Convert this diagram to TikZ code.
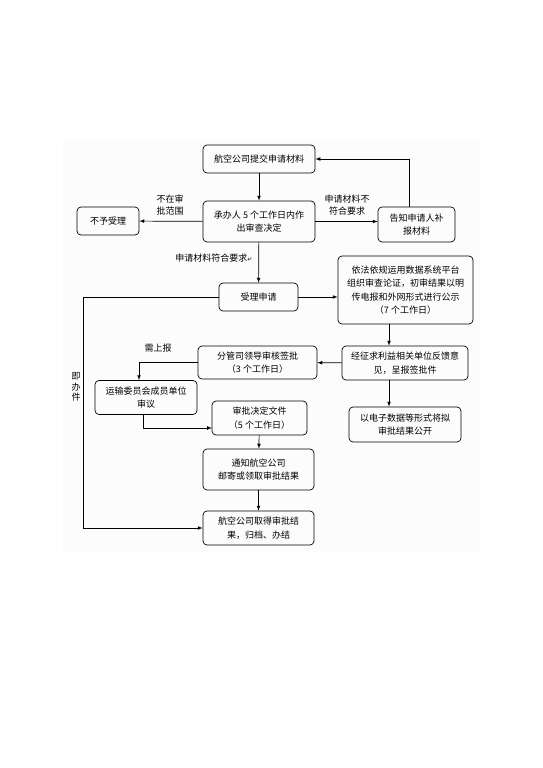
\documentclass[tikz,border=0pt]{standalone}
\usepackage{fontspec}
\setmainfont{Noto Sans CJK SC}
\newfontfamily\symfont{DejaVu Sans}
\usetikzlibrary{positioning}

\begin{document}
\begin{tikzpicture}[x=1pt, y=-1pt, >=latex,
    box/.style={draw, rounded corners=4pt, line width=0.7pt, align=center,
        inner sep=1pt, font=\fontsize{9}{13.5}\selectfont},
    lbl/.style={align=center, inner sep=1pt, font=\fontsize{9}{12}\selectfont},
    flow/.style={->, line width=0.7pt}]
    \useasboundingbox (0,0) rectangle (543,768);
    \fill[black!1] (63,141) rectangle (480,552);

    \node[box, minimum width=112pt, minimum height=28pt] (submit) at (259,159) {航空公司提交申请材料};
    \node[box, minimum width=112pt, minimum height=41pt] (check) at (259,221.5) {承办人 5 个工作日内作\\出审查决定};
    \node[box, minimum width=62pt, minimum height=28pt] (refuse) at (108,221) {不予受理};
    \node[box, minimum width=77pt, minimum height=35pt] (notify) at (416.5,224.5) {告知申请人补\\报材料};
    \node[box, minimum width=79pt, minimum height=28pt] (accept) at (258.5,297) {受理申请};
    \node[box, minimum width=135pt, minimum height=68pt] (publish) at (405.5,290)
        {依法依规运用数据系统平台\\组织审查论证，初审结果以明\\传电报和外网形式进行公示\\（7 个工作日）};
    \node[box, minimum width=126pt, minimum height=34pt] (feedback) at (405,363) {经征求利益相关单位反馈意\\见，呈报签批件};
    \node[box, minimum width=119pt, minimum height=33pt] (leader) at (257.5,362.5) {分管司领导审核签批\\（3 个工作日）};
    \node[box, minimum width=102pt, minimum height=34pt] (council) at (146,397.5) {运输委员会成员单位\\审议};
    \node[box, minimum width=95pt, minimum height=34pt] (decide) at (259.5,418) {审批决定文件\\（5 个工作日）};
    \node[box, minimum width=112pt, minimum height=35pt] (open) at (405,424.5) {以电子数据等形式将拟\\审批结果公开};
    \node[box, minimum width=111pt, minimum height=41pt] (inform) at (258.5,469.5) {通知航空公司\\邮寄或领取审批结果};
    \node[box, minimum width=111pt, minimum height=34pt] (finish) at (258.5,528) {航空公司取得审批结\\果，归档、办结};

    % labels
    \node[lbl] (outscope) at (170,205) {不在审\\批范围};
    \node[lbl] (notok) at (347,205) {申请材料不\\符合要求};
    \node[lbl] (ok) at (214,258) {申请材料符合要求{\symfont\fontsize{6}{6}\selectfont ↵}};
    \node[lbl] (report) at (158,348) {需上报};
    \node[lbl, font=\fontsize{9}{10.5}\selectfont] (instant) at (76,387) {即\\办\\件};

    % helper points
    \coordinate (back) at (409,0);
    \coordinate (col) at (389,0);
    \coordinate (down) at (139,0);
    \coordinate (instcol) at (83,297);
    \coordinate (doclow) at (212,428);

    \draw[flow] (submit) -- (check);
    \draw[flow] (check) -- (refuse);
    \draw[flow] (check.east) -- (check.east -| notify.west);
    \draw[flow] (notify.north -| back) |- (submit.east);
    \draw[flow] (check) -- (accept);
    \draw[flow] (accept) -- (accept -| publish.west);
    \draw[flow] (accept.west) -- (instcol) |- (finish.west);
    \draw[flow] (publish.south -| col) -- (feedback.north -| col);
    \draw[flow] (feedback) -- (leader);
    \draw[flow] (leader.west) -- (leader.west -| down) -- (council.north -| down);
    \draw[flow] (council.south -| 143,0) |- (doclow);
    \draw[flow] (feedback.south -| col) -- (open.north -| col);
    \draw[flow] (decide) -- (inform);
    \draw[flow] (inform) -- (finish);
\end{tikzpicture}
\end{document}
